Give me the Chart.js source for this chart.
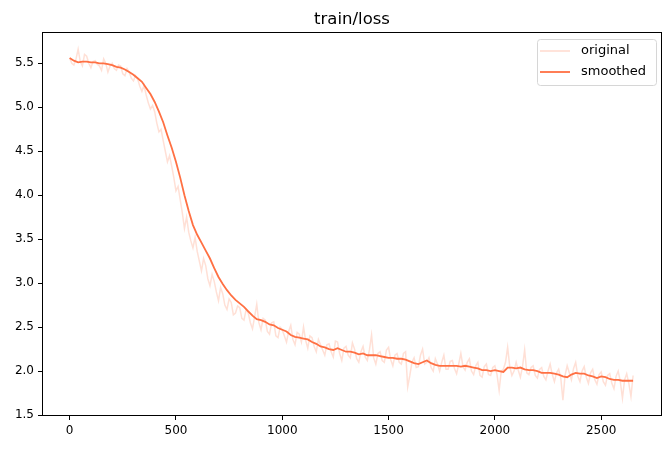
<!DOCTYPE html>
<html><head><meta charset="utf-8">
<script src="https://cdn.jsdelivr.net/npm/chart.js@4.4.1/dist/chart.umd.min.js"></script>
<style>html,body{margin:0;padding:0;background:#fff;overflow:hidden}</style>
</head><body>
<canvas id="c" width="671" height="451"></canvas>
<script>
const titleText = 'train/loss';
const seriesNames = ['original', 'smoothed'];
const originalSteps = [0,10,20,30,40,50,60,70,80,90,100,110,120,130,140,150,160,170,180,190,200,210,220,230,240,250,260,270,280,290,300,310,320,330,340,350,360,370,380,390,400,410,420,430,440,450,460,470,480,490,500,510,520,530,540,550,560,570,580,590,600,610,620,630,640,650,660,670,680,690,700,710,720,730,740,750,760,770,780,790,800,810,820,830,840,850,860,870,880,890,900,910,920,930,940,950,960,970,980,990,1000,1010,1020,1030,1040,1050,1060,1070,1080,1090,1100,1110,1120,1130,1140,1150,1160,1170,1180,1190,1200,1210,1220,1230,1240,1250,1260,1270,1280,1290,1300,1310,1320,1330,1340,1350,1360,1370,1380,1390,1400,1410,1420,1430,1440,1450,1460,1470,1480,1490,1500,1510,1520,1530,1540,1550,1560,1570,1580,1590,1600,1610,1620,1630,1640,1650,1660,1670,1680,1690,1700,1710,1720,1730,1740,1750,1760,1770,1780,1790,1800,1810,1820,1830,1840,1850,1860,1870,1880,1890,1900,1910,1920,1930,1940,1950,1960,1970,1980,1990,2000,2010,2020,2030,2040,2050,2060,2070,2080,2090,2100,2110,2120,2130,2140,2150,2160,2170,2180,2190,2200,2210,2220,2230,2240,2250,2260,2270,2280,2290,2300,2310,2320,2330,2340,2350,2360,2370,2380,2390,2400,2410,2420,2430,2440,2450,2460,2470,2480,2490,2500,2510,2520,2530,2540,2550,2560,2570,2580,2590,2600,2610,2620,2630,2640,2650];
const original = [
5.56,5.50,5.48,5.55,5.66,5.52,5.47,5.60,5.58,5.50,
5.45,5.52,5.53,5.49,5.47,5.42,5.55,5.50,5.40,5.47,
5.50,5.44,5.42,5.48,5.47,5.38,5.36,5.44,5.40,5.33,
5.30,5.36,5.32,5.24,5.18,5.25,5.14,5.05,4.98,5.02,
4.95,4.82,4.72,4.75,4.62,4.50,4.38,4.45,4.33,4.20,
4.05,4.10,3.95,3.80,3.62,3.75,3.58,3.48,3.40,3.52,
3.36,3.25,3.14,3.28,3.20,3.05,2.97,3.10,3.02,2.90,
2.80,2.95,2.88,2.75,2.70,2.82,2.78,2.64,2.66,2.74,
2.72,2.60,2.58,2.70,2.66,2.55,2.48,2.62,2.76,2.55,
2.47,2.60,2.58,2.45,2.42,2.55,2.56,2.40,2.38,2.50,
2.47,2.40,2.33,2.45,2.52,2.36,2.30,2.44,2.42,2.33,
2.50,2.35,2.26,2.40,2.38,2.28,2.22,2.36,2.30,2.24,
2.18,2.30,2.31,2.22,2.16,2.34,2.33,2.20,2.12,2.26,
2.28,2.18,2.15,2.32,2.25,2.14,2.10,2.22,2.28,2.16,
2.12,2.24,2.41,2.15,2.08,2.20,2.22,2.12,2.10,2.24,
2.27,2.13,2.06,2.18,2.20,2.10,2.08,2.20,2.22,1.82,
1.95,2.10,2.15,2.04,2.05,2.18,2.25,2.08,2.10,2.15,
2.04,2.00,2.14,2.08,2.00,2.10,2.18,2.02,2.02,2.11,
2.12,2.03,1.97,2.08,2.20,2.05,2.01,2.10,2.14,2.00,
1.96,2.06,2.10,1.95,1.93,2.05,2.08,1.96,1.95,2.04,
2.06,1.96,1.78,2.00,2.02,2.10,2.27,2.05,1.95,2.00,
2.10,2.01,1.93,2.05,2.24,1.98,1.96,2.04,2.06,1.95,
1.92,2.02,2.04,1.94,1.90,2.00,2.08,1.96,1.88,1.98,
2.02,1.92,1.67,1.95,2.06,1.98,1.90,2.03,2.10,1.94,
1.88,2.00,2.05,1.93,1.86,1.98,2.02,1.90,1.85,1.96,
1.99,1.88,1.84,1.95,1.97,1.86,1.80,1.94,2.00,1.88,
1.69,1.90,1.97,1.86,1.71,1.95];
const smoothedSteps = [0,20,40,60,80,100,120,140,160,180,200,220,240,260,280,300,320,340,360,380,400,420,440,460,480,500,520,540,560,580,600,620,640,660,680,700,720,740,760,780,800,820,840,860,880,900,920,940,960,980,1000,1020,1040,1060,1080,1100,1120,1140,1160,1180,1200,1220,1240,1260,1280,1300,1320,1340,1360,1380,1400,1420,1440,1460,1480,1500,1520,1540,1560,1580,1600,1620,1640,1660,1680,1700,1720,1740,1760,1780,1800,1820,1840,1860,1880,1900,1920,1940,1960,1980,2000,2020,2040,2060,2080,2100,2120,2140,2160,2180,2200,2220,2240,2260,2280,2300,2320,2340,2360,2380,2400,2420,2440,2460,2480,2500,2520,2540,2560,2580,2600,2620,2640,2650];
const smoothed = [5.56,5.53,5.51,5.52,5.52,5.51,5.51,5.50,5.50,5.49,5.48,5.46,5.45,5.43,5.40,5.37,5.33,5.29,5.22,5.15,5.06,4.95,4.83,4.68,4.54,4.38,4.20,4.00,3.82,3.66,3.55,3.46,3.37,3.28,3.17,3.07,2.99,2.92,2.86,2.81,2.77,2.73,2.68,2.63,2.59,2.58,2.56,2.53,2.52,2.49,2.47,2.45,2.41,2.39,2.38,2.37,2.36,2.33,2.31,2.28,2.27,2.25,2.24,2.26,2.24,2.22,2.22,2.21,2.19,2.20,2.18,2.18,2.18,2.17,2.16,2.15,2.15,2.14,2.14,2.13,2.11,2.09,2.08,2.10,2.12,2.09,2.07,2.06,2.06,2.06,2.06,2.06,2.05,2.06,2.05,2.04,2.03,2.01,2.01,2.00,2.01,2.00,1.99,2.04,2.04,2.03,2.04,2.02,2.01,2.01,2.00,1.98,1.98,1.98,1.97,1.96,1.94,1.93,1.96,1.98,1.97,1.97,1.95,1.94,1.92,1.94,1.93,1.91,1.90,1.90,1.89,1.89,1.89,1.89];
const xTickValues = [0,500,1000,1500,2000,2500];
const yTickValues = [1.5,2.0,2.5,3.0,3.5,4.0,4.5,5.0,5.5];
const yTickLabels = ['1.5','2.0','2.5','3.0','3.5','4.0','4.5','5.0','5.5'];

const LINE = 'rgb(255,112,67)';
const LINE_LIGHT = 'rgba(255,112,67,0.22)';
const FONT = "'DejaVu Sans', sans-serif";

function toPoints(xs, ys){ return xs.map((s,i)=>({x:s,y:ys[i]})); }

const framePlugin = {
  id:'frame',
  afterDatasetsDraw(chart){
    const {ctx, chartArea:a} = chart;
    ctx.save();
    ctx.strokeStyle = '#000'; ctx.lineWidth = 1;
    ctx.strokeRect(Math.round(a.left)+0.5, Math.round(a.top)+0.5, Math.round(a.right-a.left)-1, Math.round(a.bottom-a.top)-1);
    ctx.restore();
  }
};

const titlePlugin = {
  id:'mplTitle',
  afterDraw(chart){
    const {ctx, chartArea:a} = chart;
    ctx.save();
    ctx.font = '16.5px ' + FONT;
    ctx.fillStyle = '#000';
    ctx.textAlign = 'center';
    ctx.textBaseline = 'alphabetic';
    ctx.fillText(titleText, (a.left + a.right)/2, 24);
    ctx.restore();
  }
};

const legendPlugin = {
  id:'mplLegend',
  afterDraw(chart){
    const {ctx, chartArea:a} = chart;
    const bx = a.right - 125, by = a.top + 7, bw = 119, bh = 46;
    ctx.save();
    ctx.beginPath();
    if (ctx.roundRect) ctx.roundRect(bx+0.5, by+0.5, bw, bh, 3); else ctx.rect(bx+0.5, by+0.5, bw, bh);
    ctx.fillStyle = 'rgba(255,255,255,0.8)'; ctx.fill();
    ctx.strokeStyle = '#d6d6d6'; ctx.lineWidth = 1; ctx.stroke();
    const ds = chart.data.datasets;
    ctx.font = '13px ' + FONT;
    ctx.textBaseline = 'middle';
    ds.forEach((d,i)=>{
      const y = by + 12 + i*21;
      ctx.strokeStyle = d.borderColor; ctx.lineWidth = 1.8;
      ctx.beginPath(); ctx.moveTo(bx+3, y); ctx.lineTo(bx+33, y); ctx.stroke();
      ctx.fillStyle = '#000';
      ctx.fillText(d.label, bx+44, y);
    });
    ctx.restore();
  }
};

new Chart(document.getElementById('c'), {
  type:'line',
  data:{
    datasets:[
      {label:seriesNames[0], data:toPoints(originalSteps, original), borderColor:LINE_LIGHT, backgroundColor:LINE_LIGHT, borderWidth:1.5, pointRadius:0, tension:0, order:2},
      {label:seriesNames[1], data:toPoints(smoothedSteps, smoothed), borderColor:LINE, backgroundColor:LINE, borderWidth:1.8, pointRadius:0, tension:0, order:1}
    ]
  },
  options:{
    responsive:false, animation:false, devicePixelRatio:1,
    layout:{padding:{left:0,right:9,top:32,bottom:0}},
    plugins:{
      legend:{display:false},
      tooltip:{enabled:false},
      title:{display:false}
    },
    scales:{
      x:{type:'linear', min:-130, max:2786,
        afterBuildTicks(s){ s.ticks = xTickValues.map(v=>({value:v})); },
        afterFit(s){ s.height = 35; },
        grid:{display:true, drawOnChartArea:false, drawTicks:true, tickLength:4, color:'#000', lineWidth:1},
        border:{display:false},
        ticks:{color:'#000', font:{family:FONT, size:12}, padding:4, maxRotation:0, callback:(v)=>String(v)}
      },
      y:{type:'linear', min:1.489, max:5.856,
        afterBuildTicks(s){ s.ticks = yTickValues.map(v=>({value:v})); },
        afterFit(s){ s.width = 42; },
        grid:{display:true, drawOnChartArea:false, drawTicks:true, tickLength:4, color:'#000', lineWidth:1},
        border:{display:false},
        ticks:{color:'#000', font:{family:FONT, size:12}, padding:4, callback:(v)=>{const i=yTickValues.indexOf(v); return i>=0?yTickLabels[i]:'';}}
      }
    }
  },
  plugins:[framePlugin, titlePlugin, legendPlugin]
});
</script>
</body></html>
